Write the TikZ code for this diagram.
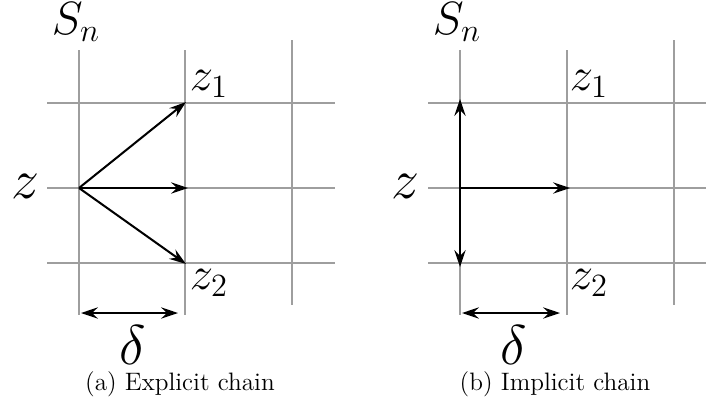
\documentclass[tikz,border=0pt]{standalone}
\usetikzlibrary{arrows.meta}
\begin{document}
\begin{tikzpicture}[x=0.4444pt,y=-0.4444pt,
  gridline/.style={draw=black!38,line width=0.55pt},
  movearrow/.style={draw=black,line width=0.9pt,-{Stealth[length=7.5pt,width=5pt,inset=2.6pt]}},
  spanarrow/.style={draw=black,line width=0.9pt,{Stealth[length=7.5pt,width=5pt,inset=2.6pt]}-{Stealth[length=7.5pt,width=5pt,inset=2.6pt]}},
  biglab/.style={font=\Huge,inner sep=0pt},
  ptlab/.style={font=\huge,inner sep=0pt},
  captext/.style={font=\fontsize{11.2}{13}\selectfont,inner sep=0pt}]
\useasboundingbox (0,0) rectangle (706,402);
% ---------- panel (a) ----------
\foreach \x/\t/\b in {79/50/315,185/50/315,292/40/305}
  \draw[gridline] (\x,\t) -- (\x,\b);
\foreach \y in {103,188,263}
  \draw[gridline] (47,\y) -- (335,\y);
\coordinate (az) at (79,188);
\coordinate (az1) at (186,102);
\coordinate (azr) at (188,188);
\coordinate (az2) at (186,264);
\draw[movearrow] (az) -- (az1);
\draw[movearrow] (az) -- (azr);
\draw[movearrow] (az) -- (az2);
\coordinate (ad1) at (81,313);
\coordinate (ad2) at (178,313);
\draw[spanarrow] (ad1) -- (ad2);
\node[ptlab] (aSn) at (76,22) {$S_n$};
\node[biglab] (azl) at (25,186) {$z$};
\node[ptlab] (az1l) at (209,84) {$z_1$};
\node[ptlab] (az2l) at (209,283) {$z_2$};
\node[biglab] (adl) at (133,345) {$\delta$};
\node[captext] (acap) at (180,384) {(a) Explicit chain};
% ---------- panel (b) ----------
\foreach \x/\t/\b in {460/50/315,567/50/315,674/40/305}
  \draw[gridline] (\x,\t) -- (\x,\b);
\foreach \y in {103,188,263}
  \draw[gridline] (428,\y) -- (706,\y);
\coordinate (bz) at (460,188);
\coordinate (bz1) at (460,99);
\coordinate (bzr) at (570,188);
\coordinate (bz2) at (460,267);
\draw[movearrow] (bz) -- (bz1);
\draw[movearrow] (bz) -- (bzr);
\draw[movearrow] (bz) -- (bz2);
\coordinate (bd1) at (462,313);
\coordinate (bd2) at (560,313);
\draw[spanarrow] (bd1) -- (bd2);
\node[ptlab] (bSn) at (457,22) {$S_n$};
\node[biglab] (bzl) at (405,186) {$z$};
\node[ptlab] (bz1l) at (589,84) {$z_1$};
\node[ptlab] (bz2l) at (589,283) {$z_2$};
\node[biglab] (bdl) at (514,345) {$\delta$};
\node[captext] (bcap) at (555,384) {(b) Implicit chain};
\end{tikzpicture}
\end{document}
